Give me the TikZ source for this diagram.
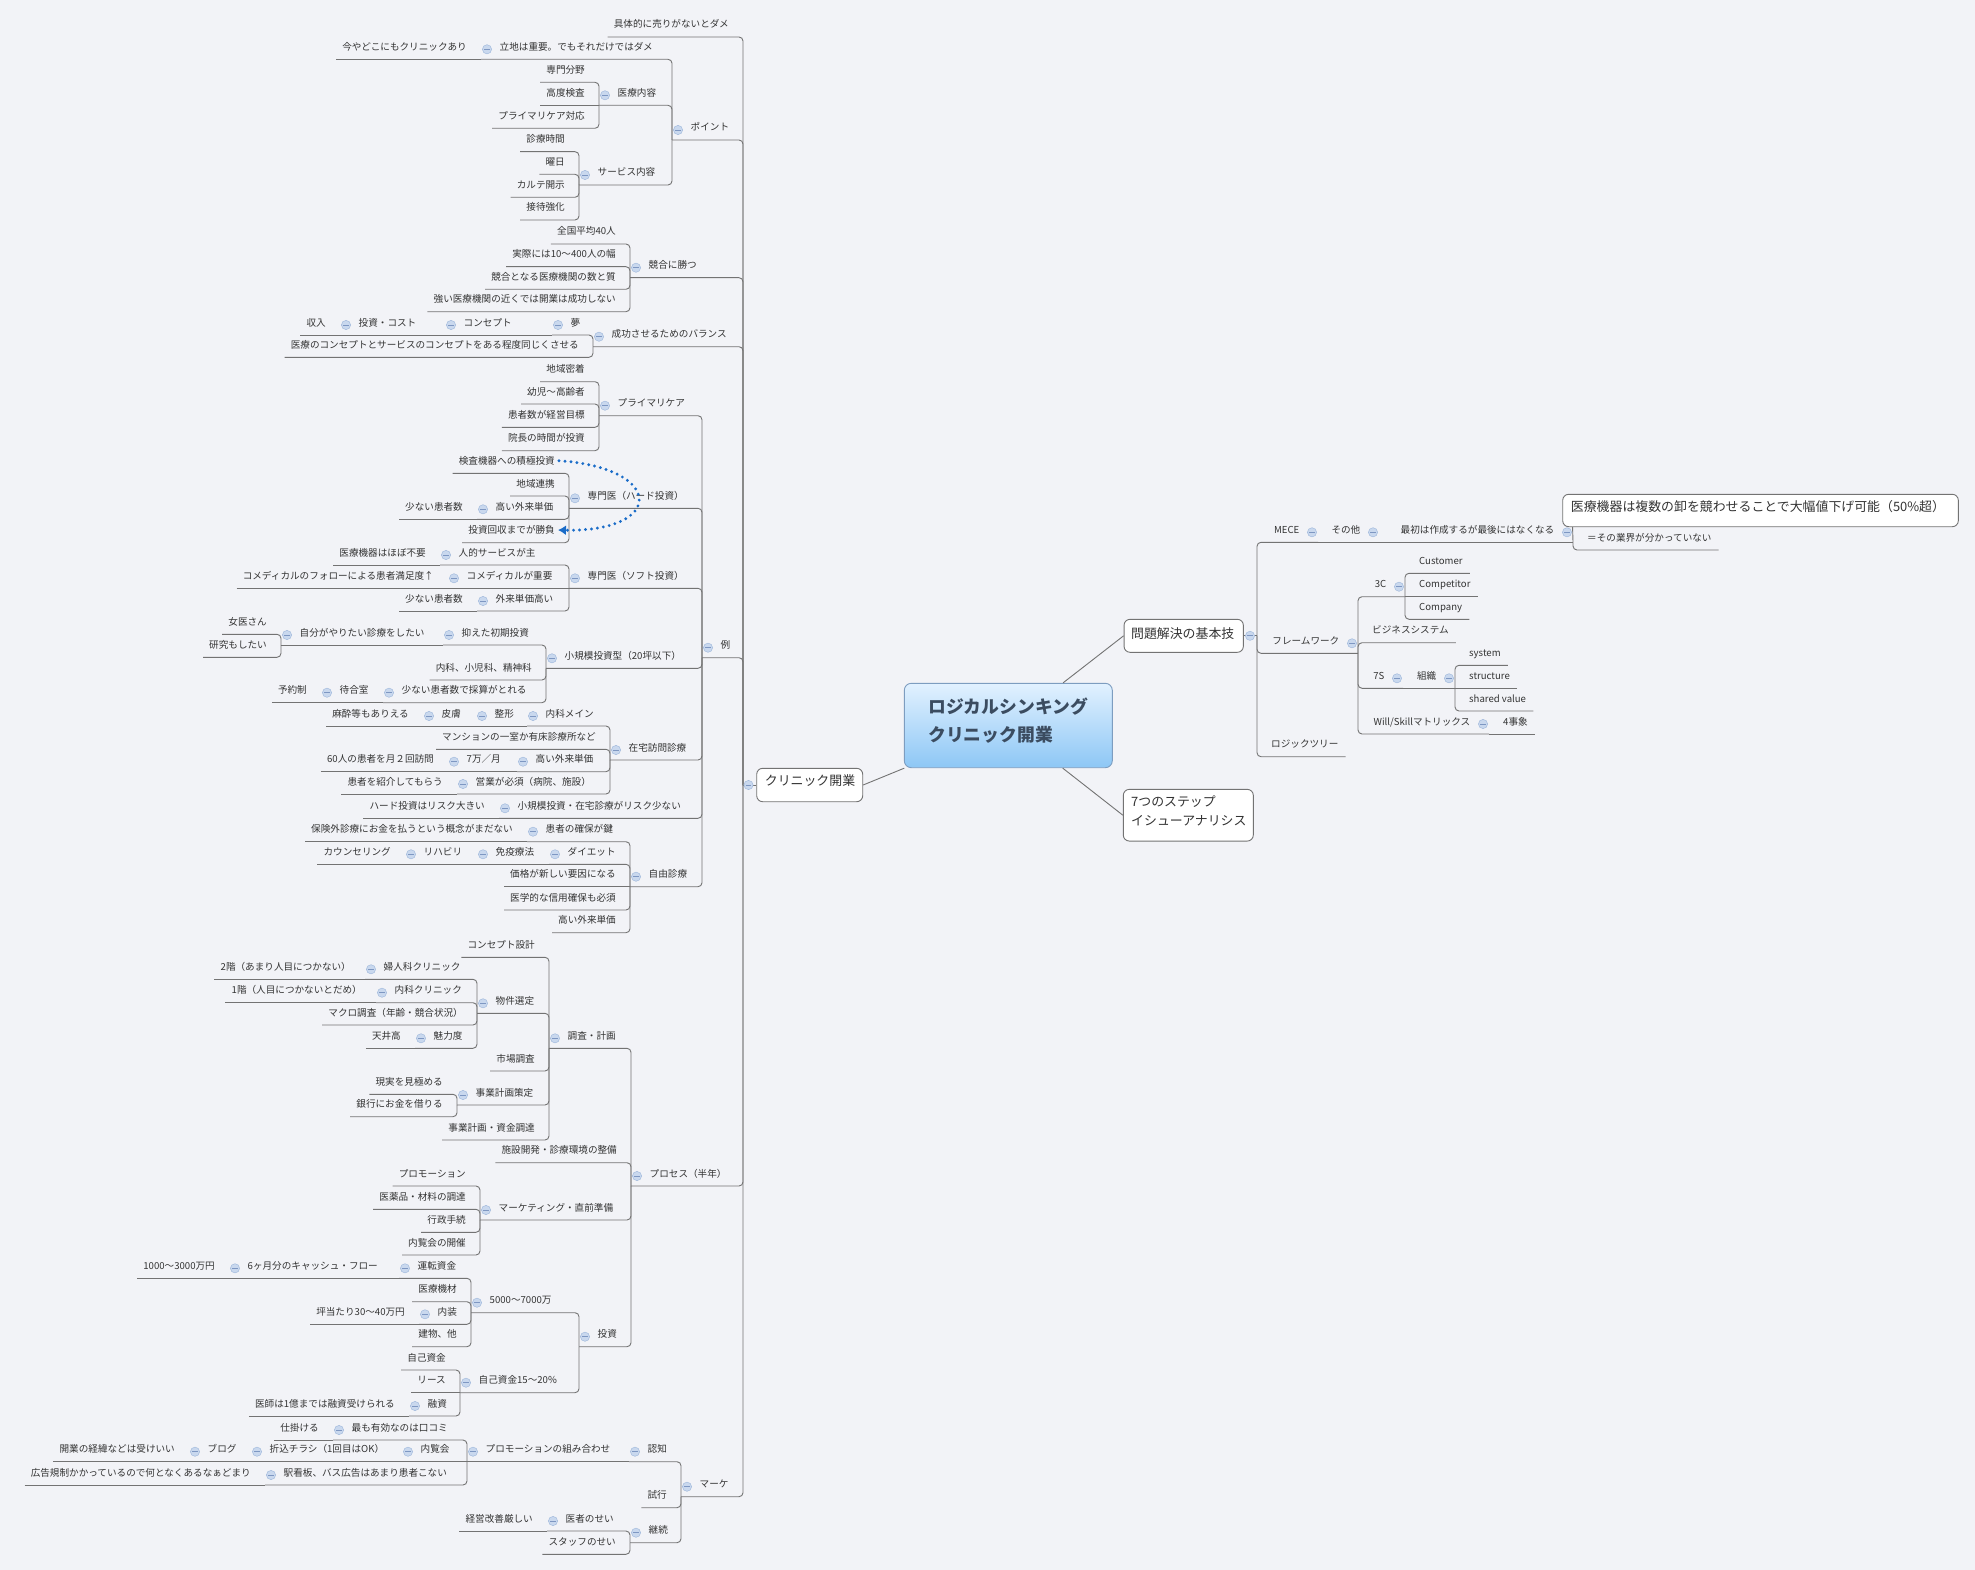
\documentclass[tikz,border=0pt]{standalone}
\usepackage{fontspec}
\setmainfont{Noto Sans CJK JP}
\usetikzlibrary{calc,arrows.meta}
\definecolor{bgc}{HTML}{F2F3F7}
\definecolor{txc}{HTML}{333333}
\definecolor{lnc}{HTML}{737373}
\definecolor{mcf}{HTML}{C9D8EE}
\definecolor{mcd}{HTML}{A3BBDD}
\definecolor{mcm}{HTML}{7E97C2}
\definecolor{arc}{HTML}{1A6CC8}
\definecolor{rtop}{HTML}{E2F1FF}
\definecolor{rbot}{HTML}{8DC7F5}
\definecolor{rbd}{HTML}{7D9DC0}
\definecolor{rtx}{HTML}{3B4C60}
\tikzset{
  tx/.style={font=\fontsize{9.6}{11}\selectfont, text=txc, inner sep=0pt},
  ln/.style={draw=lnc, line width=0.9pt, rounded corners=4pt},
  mcs/.style={fill=mcf, draw=mcd, line width=0.5pt},
  mcl/.style={draw=mcm, line width=0.7pt},
  bx/.style={draw=lnc, fill=white, rounded corners=6pt, line width=0.9pt, inner sep=0pt},
  bxt/.style={font=\fontsize{12.9}{19}\selectfont, text=txc, inner sep=0pt},
  rootbox/.style={draw=rbd, top color=rtop, bottom color=rbot, rounded corners=7pt, line width=0.9pt, inner sep=0pt},
  arr/.style={draw=arc, line width=3.2pt, dash pattern=on 0pt off 6pt, line cap=round, -{Latex[length=8pt,width=10pt]}}
}
\newcommand\mmSet[3]{\expandafter\xdef\csname mm#1@#2\endcsname{#3}}
\newcommand\mmGet[2]{\csname mm#1@#2\endcsname}
\newcommand\mmCirc[2]{%
  \filldraw[mcs] (#1,#2) circle[radius=4.6];%
  \draw[mcl] (#1-2.6,#2) -- (#1+2.6,#2);}
\newcommand\mmConn[2]{%
  \pgfmathsetmacro\mmdy{abs(\mmGet{uy}{#1}-\mmGet{uy}{#2})}%
  \ifdim\mmdy pt<0.5pt\relax
    \draw[ln] (#1j) -- (#2j);%
  \else
    \draw[ln] (#1j) -| (#2j);%
  \fi}
% left leaf: name parent uy text
\newcommand\mmLeaf[4]{%
  \mmSet{uy}{#1}{#3}%
  \edef\mmpx{\mmGet{lx}{#2}}%
  \node[tx,anchor=base east] (#1) at (\mmpx-14,#3-9) {#4};%
  \coordinate (#1j) at ($(#1.base west)+(-6,9)$);%
  \mmConn{#1}{#2}}
% left parent: name parent uy lx text
\newcommand\mmPar[5]{%
  \mmSet{uy}{#1}{#3}\mmSet{lx}{#1}{#4}%
  \node[tx,anchor=base west] (#1) at (#4+18.5,#3-9) {#5};%
  \coordinate (#1j) at (#4,#3);%
  \mmConn{#1}{#2}%
  \mmCirc{#4+6}{#3-10}}
% right leaf: name parent uy text
\newcommand\mmRLeaf[4]{%
  \mmSet{uy}{#1}{#3}%
  \edef\mmpx{\mmGet{lx}{#2}}%
  \node[tx,anchor=base west] (#1) at (\mmpx+14,#3-9) {#4};%
  \coordinate (#1j) at ($(#1.base east)+(7,9)$);%
  \mmConn{#1}{#2}}
% right parent: name parent uy rx text
\newcommand\mmRPar[5]{%
  \mmSet{uy}{#1}{#3}\mmSet{lx}{#1}{#4}%
  \node[tx,anchor=base east] (#1) at (#4-18.5,#3-9) {#5};%
  \coordinate (#1j) at (#4,#3);%
  \mmConn{#1}{#2}%
  \mmCirc{#4-6}{#3-10}}
\begin{document}
\begin{tikzpicture}[x=1pt,y=-1pt]
\fill[bgc] (0,0) rectangle (1975,1570);
\useasboundingbox (0,0) rectangle (1975,1570);
% central and boxed topics
\node[rootbox, minimum width=208pt, minimum height=84.4pt] (root) at (1008.3,725.5) {};
\node[font=\fontsize{17.8}{28}\selectfont\bfseries, text=rtx, inner sep=0pt, anchor=west, align=left] (roott) at (928,721) {ロジカルシンキング\\クリニック開業};
\node[bx, minimum width=106pt, minimum height=33.4pt] (clinic) at (809.7,785) {};
\node[bxt] (clinict) at (810,781) {クリニック開業};
\node[bx, minimum width=119.3pt, minimum height=33pt] (mondai) at (1183.7,635.8) {};
\node[bxt] (mondait) at (1182.7,633.3) {問題解決の基本技};
\node[bx, minimum width=130pt, minimum height=51.7pt] (seven) at (1188.3,815.2) {};
\node[bxt, anchor=west, align=left] (sevent) at (1131,810.5) {7つのステップ\\イシューアナリシス};
\draw[ln,rounded corners=0pt] (root) -- (clinic.east);
\draw[ln,rounded corners=0pt] (root) -- (mondai.west);
\draw[ln,rounded corners=0pt] (root) -- (seven.west);
\coordinate (clinicj) at (743,785);
\coordinate (mondaij) at (1257,635.8);
\mmSet{lx}{clinic}{743}\mmSet{uy}{clinic}{785}
\mmSet{lx}{mondai}{1257}\mmSet{uy}{mondai}{635.8}
\draw[ln] (clinic.west) -- (clinicj);
\draw[ln] (mondai.east) -- (mondaij);
% ---------- left tree ----------
\mmLeaf{g1}{clinic}{37}{具体的に売りがないとダメ}
\mmPar{pt}{clinic}{140}{672}{ポイント}
\mmPar{kg}{clinic}{277.7}{630}{競合に勝つ}
\mmPar{sb}{clinic}{346.7}{593}{成功させるためのバランス}
\mmPar{ex}{clinic}{657.7}{702}{例}
\mmPar{pr}{clinic}{1186}{631}{プロセス（半年）}
\mmPar{mk}{clinic}{1496.7}{681}{マーケ}
% ポイント
\mmPar{rc}{pt}{59.3}{481}{立地は重要。でもそれだけではダメ}
\mmLeaf{rc1}{rc}{59.3}{今やどこにもクリニックあり}
\mmPar{iy}{pt}{105.3}{599}{医療内容}
\mmLeaf{iy1}{iy}{82.3}{専門分野}
\mmLeaf{iy2}{iy}{105.3}{高度検査}
\mmLeaf{iy3}{iy}{128.3}{プライマリケア対応}
\mmPar{sv}{pt}{185}{579}{サービス内容}
\mmLeaf{sv1}{sv}{151.7}{診療時間}
\mmLeaf{sv2}{sv}{174.3}{曜日}
\mmLeaf{sv3}{sv}{197.3}{カルテ開示}
\mmLeaf{sv4}{sv}{220}{接待強化}
% 競合に勝つ
\mmLeaf{kg1}{kg}{244}{全国平均40人}
\mmLeaf{kg2}{kg}{266.7}{実際には10〜400人の幅}
\mmLeaf{kg3}{kg}{289.3}{競合となる医療機関の数と質}
\mmLeaf{kg4}{kg}{311.7}{強い医療機関の近くでは開業は成功しない}
% バランス
\mmPar{dr}{sb}{335}{552}{夢}
\mmPar{cp}{dr}{335}{445}{コンセプト}
\mmPar{ic}{cp}{335}{340}{投資・コスト}
\mmLeaf{ic1}{ic}{335}{収入}
\mmLeaf{sb2}{sb}{357.3}{医療のコンセプトとサービスのコンセプトをある程度同じくさせる}
% 例
\mmPar{pc}{ex}{415.7}{599}{プライマリケア}
\mmLeaf{pc1}{pc}{381.7}{地域密着}
\mmLeaf{pc2}{pc}{404}{幼児〜高齢者}
\mmLeaf{pc3}{pc}{427.3}{患者数が経営目標}
\mmLeaf{pc4}{pc}{450.7}{院長の時間が投資}
\mmPar{hd}{ex}{508.3}{569}{専門医（ハード投資）}
\mmLeaf{hd1}{hd}{473.3}{検査機器への積極投資}
\mmLeaf{hd2}{hd}{496}{地域連携}
\mmPar{hd3}{hd}{519.3}{477}{高い外来単価}
\mmLeaf{hd31}{hd3}{519.3}{少ない患者数}
\mmLeaf{hd4}{hd}{542.7}{投資回収までが勝負}
\mmPar{sf}{ex}{588.3}{569}{専門医（ソフト投資）}
\mmPar{sf1}{sf}{565}{440}{人的サービスが主}
\mmLeaf{sf11}{sf1}{565}{医療機器はほぼ不要}
\mmPar{sf2}{sf}{588.3}{448}{コメディカルが重要}
\mmLeaf{sf21}{sf2}{588.3}{コメディカルのフォローによる患者満足度↑}
\mmPar{sf3}{sf}{611}{477}{外来単価高い}
\mmLeaf{sf31}{sf3}{611}{少ない患者数}
\mmPar{sm}{ex}{668.3}{546}{小規模投資型（20坪以下）}
\mmPar{sm1}{sm}{645}{443}{抑えた初期投資}
\mmPar{sm11}{sm1}{645}{281}{自分がやりたい診療をしたい}
\mmLeaf{sm111}{sm11}{634.3}{女医さん}
\mmLeaf{sm112}{sm11}{657.3}{研究もしたい}
\mmLeaf{sm2}{sm}{680}{内科、小児科、精神科}
\mmPar{sm3}{sm}{702.7}{383}{少ない患者数で採算がとれる}
\mmPar{sm31}{sm3}{702.7}{321}{待合室}
\mmLeaf{sm311}{sm31}{702.7}{予約制}
\mmPar{zt}{ex}{760}{610}{在宅訪問診療}
\mmPar{zt1}{zt}{726}{527}{内科メイン}
\mmPar{zt11}{zt1}{726}{476}{整形}
\mmPar{zt111}{zt11}{726}{423}{皮膚}
\mmLeaf{zt1111}{zt111}{726}{麻酔等もありえる}
\mmLeaf{zt2}{zt}{749.3}{マンションの一室か有床診療所など}
\mmPar{zt3}{zt}{771.7}{517}{高い外来単価}
\mmPar{zt31}{zt3}{771.7}{448}{7万／月}
\mmLeaf{zt311}{zt31}{771.7}{60人の患者を月２回訪問}
\mmPar{zt4}{zt}{794}{457}{営業が必須（病院、施設）}
\mmLeaf{zt41}{zt4}{794}{患者を紹介してもらう}
\mmPar{rs}{ex}{818.3}{499}{小規模投資・在宅診療がリスク少ない}
\mmLeaf{rs1}{rs}{818.3}{ハード投資はリスク大きい}
\mmPar{jy}{ex}{886.7}{630}{自由診療}
\mmPar{jy1}{jy}{841.7}{527}{患者の確保が鍵}
\mmLeaf{jy11}{jy1}{841.7}{保険外診療にお金を払うという概念がまだない}
\mmPar{jy2}{jy}{864.3}{549}{ダイエット}
\mmPar{jy21}{jy2}{864.3}{477}{免疫療法}
\mmPar{jy211}{jy21}{864.3}{405}{リハビリ}
\mmLeaf{jy2111}{jy211}{864.3}{カウンセリング}
\mmLeaf{jy3}{jy}{886.7}{価格が新しい要因になる}
\mmLeaf{jy4}{jy}{910}{医学的な信用確保も必須}
\mmLeaf{jy5}{jy}{932.7}{高い外来単価}
% プロセス
\mmPar{cs}{pr}{1048.3}{549}{調査・計画}
\mmLeaf{cs1}{cs}{957.3}{コンセプト設計}
\mmPar{cs2}{cs}{1013.3}{477}{物件選定}
\mmPar{cs21}{cs2}{979.3}{365}{婦人科クリニック}
\mmLeaf{cs211}{cs21}{979.3}{2階（あまり人目につかない）}
\mmPar{cs22}{cs2}{1002.7}{376}{内科クリニック}
\mmLeaf{cs221}{cs22}{1002.7}{1階（人目につかないとだめ）}
\mmLeaf{cs23}{cs2}{1025}{マクロ調査（年齢・競合状況）}
\mmPar{cs24}{cs2}{1048.3}{415}{魅力度}
\mmLeaf{cs241}{cs24}{1048.3}{天井高}
\mmLeaf{cs3}{cs}{1071}{市場調査}
\mmPar{cs4}{cs}{1105}{457}{事業計画策定}
\mmLeaf{cs41}{cs4}{1094.3}{現実を見極める}
\mmLeaf{cs42}{cs4}{1116.7}{銀行にお金を借りる}
\mmLeaf{cs5}{cs}{1140}{事業計画・資金調達}
\mmLeaf{sd}{pr}{1162.7}{施設開発・診療環境の整備}
\mmPar{mt}{pr}{1220}{480}{マーケティング・直前準備}
\mmLeaf{mt1}{mt}{1186}{プロモーション}
\mmLeaf{mt2}{mt}{1209.3}{医薬品・材料の調達}
\mmLeaf{mt3}{mt}{1232.3}{行政手続}
\mmLeaf{mt4}{mt}{1255}{内覧会の開催}
\mmPar{tz}{pr}{1346.7}{579}{投資}
\mmPar{tz1}{tz}{1312.7}{471}{5000〜7000万}
\mmPar{tz11}{tz1}{1278.3}{399}{運転資金}
\mmPar{tz111}{tz11}{1278.3}{229}{6ヶ月分のキャッシュ・フロー}
\mmLeaf{tz1111}{tz111}{1278.3}{1000〜3000万円}
\mmLeaf{tz12}{tz1}{1301.7}{医療機材}
\mmPar{tz13}{tz1}{1324.3}{419}{内装}
\mmLeaf{tz131}{tz13}{1324.3}{坪当たり30〜40万円}
\mmLeaf{tz14}{tz1}{1346.7}{建物、他}
\mmPar{tz2}{tz}{1392.7}{460}{自己資金15〜20\%}
\mmLeaf{tz21}{tz2}{1370}{自己資金}
\mmLeaf{tz22}{tz2}{1392.7}{リース}
\mmPar{tz23}{tz2}{1416}{409}{融資}
\mmLeaf{tz231}{tz23}{1416}{医師は1億までは融資受けられる}
% マーケ
\mmPar{nc}{mk}{1461.7}{629}{認知}
\mmPar{nc1}{nc}{1461.7}{467}{プロモーションの組み合わせ}
\mmPar{nc11}{nc1}{1440}{333}{最も有効なのは口コミ}
\mmLeaf{nc111}{nc11}{1440}{仕掛ける}
\mmPar{nc12}{nc1}{1461.7}{402}{内覧会}
\mmPar{nc121}{nc12}{1461.7}{251}{折込チラシ（1回目はOK）}
\mmPar{nc1211}{nc121}{1461.7}{189}{ブログ}
\mmLeaf{nc12111}{nc1211}{1461.7}{開業の経緯などは受けいい}
\mmPar{nc13}{nc1}{1485}{265}{駅看板、バス広告はあまり患者こない}
\mmLeaf{nc131}{nc13}{1485}{広告規制かかっているので何となくあるなぁどまり}
\mmLeaf{sk}{mk}{1507.7}{試行}
\mmPar{kz}{mk}{1542.7}{630}{継続}
\mmPar{kz1}{kz}{1531}{547}{医者のせい}
\mmLeaf{kz11}{kz1}{1531}{経営改善厳しい}
\mmLeaf{kz2}{kz}{1554.3}{スタッフのせい}
% ---------- right tree ----------
\mmRPar{me}{mondai}{542.3}{1318}{MECE}
\mmRPar{so}{me}{542.3}{1379}{その他}
\mmRPar{sa}{so}{542.3}{1573}{最初は作成するが最後にはなくなる}
\node[bx, minimum width=395.6pt, minimum height=32.4pt] (ir) at (1760.5,510.5) {};
\node[bxt, anchor=west] (irt) at (1570.7,506.7) {医療機器は複数の卸を競わせることで大幅値下げ可能（50\%超）};
\coordinate (irj) at ($(ir.south west)+(10.3,0)$);
\draw[ln] (irj) -- (saj);
\mmRLeaf{sa2}{sa}{550}{＝その業界が分かっていない}
\mmRPar{fw}{mondai}{653.3}{1358}{フレームワーク}
\mmRPar{cc}{fw}{596.7}{1405}{3C}
\mmRLeaf{cc1}{cc}{573.3}{Customer}
\mmRLeaf{cc2}{cc}{596.7}{Competitor}
\mmRLeaf{cc3}{cc}{619.3}{Company}
\mmRLeaf{bs}{fw}{642.7}{ビジネスシステム}
\mmRPar{ss}{fw}{688.3}{1403}{7S}
\mmRPar{so7}{ss}{688.3}{1455}{組織}
\mmRLeaf{s71}{so7}{665.3}{system}
\mmRLeaf{s72}{so7}{688.3}{structure}
\mmRLeaf{s73}{so7}{711}{shared value}
\mmRPar{ws}{fw}{734}{1489}{Will/Skillマトリックス}
\mmRLeaf{ws1}{ws}{734}{4事象}
\mmRLeaf{lt}{mondai}{756.7}{ロジックツリー}
% collapse markers of the boxed topics
\mmCirc{748.5}{785}
\mmCirc{1250}{635.8}
% dotted relationship arrow
\draw[arr] ([xshift=4pt]hd1.east) .. controls (665,468) and (665,532) .. ([xshift=3pt]hd4.east);
\end{tikzpicture}
\end{document}
